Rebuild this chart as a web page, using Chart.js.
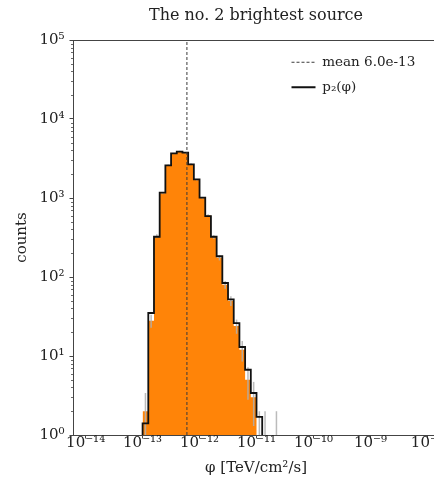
<!DOCTYPE html>
<html><head><meta charset="utf-8">
<script src="https://cdn.jsdelivr.net/npm/chart.js@4.4.1/dist/chart.umd.min.js"></script>
<style>
html,body{margin:0;padding:0;background:#fff;overflow:hidden;width:434px;height:485px;}
canvas{display:block;}
</style></head><body>
<canvas id="c" width="470" height="485"></canvas>
<script>
// ---- data ----
const binEdgesLog = [-13.0,-12.9,-12.8,-12.7,-12.6,-12.5,-12.4,-12.3,-12.2,-12.1,-12.0,-11.9,-11.8,-11.7,-11.6,-11.5,-11.4,-11.3,-11.2,-11.1,-11.0,-10.9,-10.8,-10.7,-10.6];
const dataCounts  = [2, 28, 330, 1150, 2600, 3650, 3900, 3700, 2700, 1700, 1000, 600, 320, 175, 80, 50, 24, 12, 5, 3, 1, 1, 0, 1];
const dataErrors  = [1.4, 5.3, 18, 34, 51, 60, 62, 61, 52, 41, 32, 24, 18, 13, 9, 7, 4.9, 3.5, 2.2, 1.7, 1, 1, 0, 1];
const modelCounts = [1.4, 35, 323, 1170, 2590, 3680, 3870, 3760, 2670, 1720, 1010, 590, 323, 183, 84, 52, 26, 13, 6.7, 3.4, 1.7, 0, 0, 0];
const meanValue = 6.0e-13;
const meanLabel = 'mean 6.0e-13';
const modelLabel = 'p\u2082(\u03c6)';
const xTickValues = [1e-14, 1e-13, 1e-12, 1e-11, 1e-10, 1e-9, 1e-8];
const xTickLabels = ['10\u207b\u00b9\u2074','10\u207b\u00b9\u00b3','10\u207b\u00b9\u00b2','10\u207b\u00b9\u00b9','10\u207b\u00b9\u2070','10\u207b\u2079','10\u207b\u2078'];
const yTickValues = [1, 10, 100, 1000, 10000, 100000];
const yTickLabels = ['10\u2070','10\u00b9','10\u00b2','10\u00b3','10\u2074','10\u2075'];
const yMinorSubs = [2,3,4,5,6,7,8,9];
const xMin = 6.3e-15, xMax = 1.6e-8, yMin = 1, yMax = 1e5;
const floorVal = 0.3;

const ORANGE = '#ff8408';

function stepPoints(edgesLog, counts) {
  const pts = [{x: Math.pow(10, edgesLog[0]), y: floorVal}];
  for (let i = 0; i < counts.length; i++) {
    pts.push({x: Math.pow(10, edgesLog[i]), y: counts[i] > 0 ? counts[i] : floorVal});
  }
  pts.push({x: Math.pow(10, edgesLog[counts.length]), y: floorVal});
  return pts;
}

Chart.defaults.font.family = "'DejaVu Serif', serif";
Chart.defaults.color = '#222';

const errorBars = {
  id: 'errorBars',
  afterDatasetDraw(chart, args) {
    if (args.index !== 2) return;
    const xs = chart.scales.x, ys = chart.scales.y, ctx = chart.ctx, ca = chart.chartArea;
    ctx.save();
    ctx.beginPath(); ctx.rect(ca.left, ca.top, ca.right - ca.left, ca.bottom - ca.top); ctx.clip();
    ctx.strokeStyle = 'rgba(175,175,175,0.85)';
    ctx.lineWidth = 1.5;
    for (let i = 0; i < dataCounts.length; i++) {
      const n = dataCounts[i], e = dataErrors[i];
      if (n <= 0) continue;
      const xc = Math.sqrt(Math.pow(10, binEdgesLog[i]) * Math.pow(10, binEdgesLog[i+1]));
      const px = xs.getPixelForValue(xc);
      const lo = Math.max(n - e, floorVal);
      const pyLo = ys.getPixelForValue(lo), pyHi = ys.getPixelForValue(n + e);
      ctx.beginPath(); ctx.moveTo(px, pyLo); ctx.lineTo(px, pyHi); ctx.stroke();
    }
    ctx.restore();
  }
};

const minorTicks = {
  id: 'minorTicks',
  afterDraw(chart) {
    const ys = chart.scales.y, ctx = chart.ctx, left = chart.chartArea.left;
    ctx.save(); ctx.strokeStyle = '#444'; ctx.lineWidth = 0.8;
    yTickValues.forEach(d => yMinorSubs.forEach(s => {
      const v = d * s; if (v > yMax) return;
      const py = Math.round(ys.getPixelForValue(v)) + 0.5;
      ctx.beginPath(); ctx.moveTo(left - 2, py); ctx.lineTo(left, py); ctx.stroke();
    }));
    ctx.restore();
  }
};

const legendMover = {
  id: 'legendMover',
  afterLayout(chart) {
    const lg = chart.legend, ca = chart.chartArea;
    if (!lg) return;
    const w = lg.width, h = lg.height;
    lg.left = ca.right - 159; lg.right = lg.left + w;
    lg.top = ca.top + 4; lg.bottom = lg.top + h;
  }
};

new Chart(document.getElementById('c'), {
  type: 'line',
  data: {
    datasets: [
      { label: meanLabel, data: [{x: meanValue, y: yMin}, {x: meanValue, y: yMax}],
        borderColor: '#3a3a3a', borderWidth: 1, borderDash: [3, 2], pointRadius: 0, pointStyle: 'line', order: 0 },
      { label: modelLabel, data: stepPoints(binEdgesLog, modelCounts), stepped: true,
        borderColor: '#111', borderWidth: 1.8, pointRadius: 0, pointStyle: 'line', fill: false, order: 1 },
      { label: '', data: stepPoints(binEdgesLog, dataCounts), stepped: true,
        borderWidth: 0, borderColor: ORANGE, backgroundColor: ORANGE, fill: 'start', pointRadius: 0, order: 3 }
    ]
  },
  options: {
    responsive: false, animation: false,
    layout: { padding: { left: 0, right: 31, top: 0, bottom: 0 } },
    scales: {
      x: {
        type: 'logarithmic', position: 'bottom', min: xMin, max: xMax,
        afterBuildTicks: s => { s.ticks = xTickValues.map(v => ({value: v})); },
        afterFit: s => { s.height = 50; },
        ticks: { callback: (v, i) => xTickLabels[i], autoSkip: false, maxRotation: 0, padding: -3,
                 font: { size: 15, lineHeight: 1 }, color: '#222' },
        grid: { drawOnChartArea: false, drawTicks: true, tickLength: 3.5, tickColor: '#444' },
        border: { display: true, color: '#444', width: 1 },
        title: { display: true, text: '\u03c6 [TeV/cm\u00b2/s]', font: { size: 15 }, padding: { top: 8, bottom: 8 }, color: '#222' }
      },
      x2: {
        type: 'logarithmic', position: 'top', min: xMin, max: xMax,
        afterFit: s => { s.height = 0; },
        ticks: { display: false },
        grid: { drawOnChartArea: false, drawTicks: false },
        border: { display: true, color: '#444', width: 1 }
      },
      y: {
        type: 'logarithmic', position: 'left', min: yMin, max: yMax,
        afterBuildTicks: s => { s.ticks = yTickValues.map(v => ({value: v})); },
        afterFit: s => { s.width = 73; },
        ticks: { callback: (v, i) => yTickLabels[i], autoSkip: false, padding: 5, font: { size: 15 }, color: '#222' },
        grid: { drawOnChartArea: false, drawTicks: true, tickLength: 3.5, tickColor: '#444' },
        border: { display: true, color: '#444', width: 1 },
        title: { display: true, text: 'counts', font: { size: 15 }, padding: { top: 13, bottom: 13 }, color: '#222' }
      }
    },
    plugins: {
      title: { display: true, text: 'The no. 2 brightest source', fullSize: false,
               font: { size: 16, weight: 'normal', lineHeight: 1.2 }, padding: { top: 6, bottom: 14.8 }, color: '#222' },
      legend: {
        position: 'chartArea', align: 'start',
        labels: {
          usePointStyle: true, pointStyleWidth: 24, padding: 11.5, font: { size: 13.5 }, color: '#222',
          generateLabels: (chart) => {
            const items = Chart.defaults.plugins.legend.labels.generateLabels(chart);
            return items.filter(it => it.text).map(it => {
              const ds = chart.data.datasets[it.datasetIndex];
              it.lineDash = ds.borderDash || [];
              it.lineWidth = ds.borderWidth;
              it.strokeStyle = ds.borderColor;
              it.pointStyle = 'line';
              return it;
            });
          }
        }
      },
      tooltip: { enabled: false }
    }
  },
  plugins: [errorBars, minorTicks, legendMover]
});
</script>
</body></html>
